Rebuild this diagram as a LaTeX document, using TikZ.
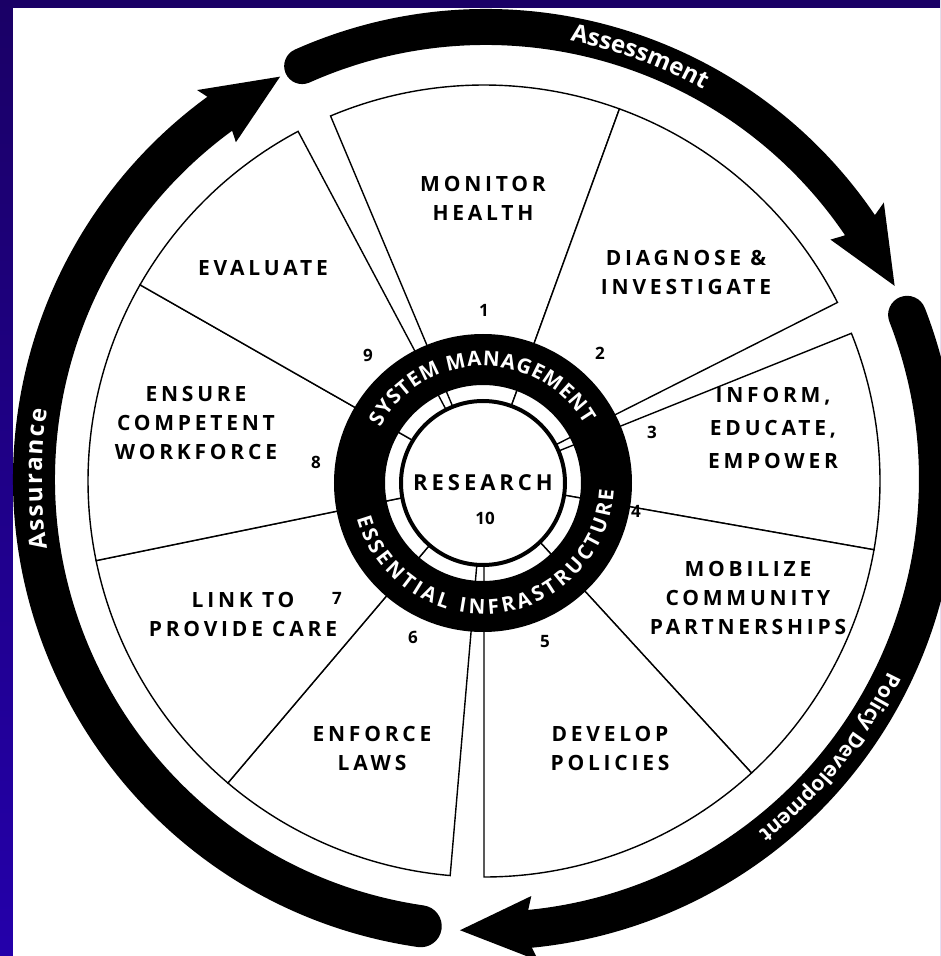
\documentclass[tikz,border=0pt]{standalone}
\usepackage{fontspec}
\setmainfont{Open Sans}
\newfontfamily\labelfont[LetterSpace=18]{Open Sans}
\newfontfamily\bandfont{Open Sans}
\usetikzlibrary{decorations.text}
\definecolor{frametop}{RGB}{26,0,102}
\definecolor{framebot}{RGB}{36,0,170}
\tikzset{wedge/.style={draw=black,line width=1.4,fill=white},
         seclabel/.style={font=\labelfont\bfseries\fontsize{21}{29}\selectfont,align=center,inner sep=0pt},
         secnum/.style={font=\bfseries\fontsize{17}{17}\selectfont,inner sep=0pt},
         hubtext/.style={decorate,decoration={text along path,text color=white,text align=fit to path,
                         text={|\bandfont\bfseries\fontsize{20.5}{20.5}\selectfont|#1}}},
         bandtext/.style 2 args={decorate,decoration={text along path,text color=white,text align=center,
                         text={|\bandfont\bfseries\fontsize{#1}{#1}\selectfont|#2}}},
         }
% one sector of the wheel, from angle #1 to angle #2
\newcommand\wheelsector[2]{\draw[wedge] (0,0) -- (#1:396) arc[start angle=#1,end angle=#2,radius=396] -- cycle;}
% clockwise band: start angle, tip angle, band width
\newcommand\cyclearrow[3]{%
  \draw[line width=#3,line cap=round] (#1:452) arc[start angle=#1,end angle={#2+8},radius=452];
  \fill (#2:452) -- ({#2+9.5}:484.5) -- ({#2+8.9}:471) -- ({#2+8.9}:433) -- ({#2+9.5}:419.5) -- cycle;}

\begin{document}
\begin{tikzpicture}[x=1pt,y=1pt]
\useasboundingbox (-484,-475) rectangle (456,481);
\shade[top color=frametop,bottom color=framebot] (-484,-475) rectangle (456,481);
\fill[white] (-471,-475) rectangle (456,473);

% outer cycle
\begin{scope}[shift={(2,2)}]
  \cyclearrow{114}{25.3}{36}
  \cyclearrow{21.3}{-93.3}{38}
  \cyclearrow{-98.3}{-242.9}{42}
  \path[bandtext={24}{Assessment}] (86:446) arc[start angle=86,end angle=54,radius=446];
  \path[bandtext={21}{Policy Development}] (-13:446) arc[start angle=-13,end angle=-65,radius=446];
  \path[bandtext={24}{Assurance},decoration={text align=fit to path}] (189:444) arc[start angle=189,end angle=171,radius=444];
\end{scope}

% the ten services
\wheelsector{70}{112.8}
\wheelsector{26.8}{70}
\wheelsector{-10}{21.9}
\wheelsector{-47.5}{-10}
\wheelsector{-90}{-47.5}
\wheelsector{-130.3}{-94.9}
\wheelsector{-168.4}{-130.3}
\wheelsector{150.3}{191.6}
\wheelsector{118}{150.3}

\node[seclabel] (monitor) at (-1,283) {MONITOR\\HEALTH};
\node[seclabel] (diagnose) at (202,209) {DIAGNOSE \&\\INVESTIGATE};
\node[seclabel,font=\labelfont\bfseries\fontsize{21}{33}\selectfont] (inform) at (289,53) {INFORM,\\EDUCATE,\\EMPOWER};
\node[seclabel] (mobilize) at (264,-117) {MOBILIZE\\COMMUNITY\\PARTNERSHIPS};
\node[seclabel] (develop) at (126,-267) {DEVELOP\\POLICIES};
\node[seclabel] (enforce) at (-112,-267) {ENFORCE\\LAWS};
\node[seclabel] (link) at (-241,-133) {LINK TO\\PROVIDE CARE};
\node[seclabel] (ensure) at (-288,58) {ENSURE\\COMPETENT\\WORKFORCE};
\node[seclabel] (evaluate) at (-221,213) {EVALUATE};

% hub
\begin{scope}[shift={(-1,-2)}]
  \fill[even odd rule] (0,0) circle[radius=149] (0,0) circle[radius=98];
  \draw[line width=4,fill=white] (0,0) circle[radius=82];
  \path[hubtext=SYSTEM MANAGEMENT] (151.5:117) arc[start angle=151.5,end angle=30,radius=117];
  \path[hubtext=ESSENTIAL INFRASTRUCTURE] (195.5:131) arc[start angle=195.5,end angle=357,radius=131];
  \node[seclabel,font=\labelfont\bfseries\fontsize{22}{22}\selectfont] (research) at (0,0) {RESEARCH};
  \node[secnum] (num10) at (2,-35) {10};
\end{scope}

\foreach \n/\p in {1/{(0,171)},2/{(116,128)},3/{(168,49)},4/{(152,-30)},5/{(61,-161)},
                   6/{(-71,-156)},7/{(-147,-117)},8/{(-168,19)},9/{(-116,126)}}
  \node[secnum] (num\n) at \p {\n};
\end{tikzpicture}
\end{document}
